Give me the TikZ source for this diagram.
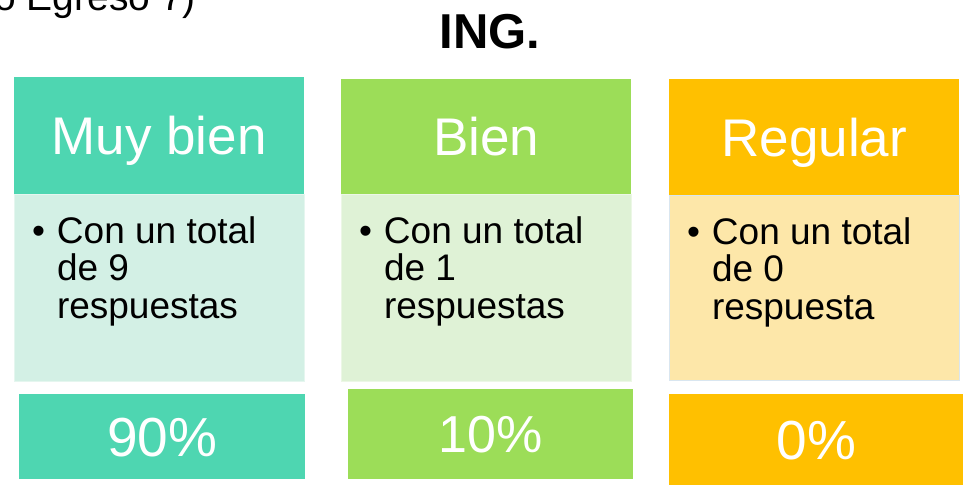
\documentclass[tikz,border=0pt]{standalone}
\usepackage{fontspec}
\setmainfont{Liberation Sans}
\usetikzlibrary{positioning}

\definecolor{tealhead}{HTML}{4ED6B1}
\definecolor{tealbody}{HTML}{D3F0E5}
\definecolor{limehead}{HTML}{9CDD58}
\definecolor{limebody}{HTML}{DFF2D6}
\definecolor{goldhead}{HTML}{FFC000}
\definecolor{goldbody}{HTML}{FDE7A9}
\definecolor{bluerim}{HTML}{D9E6F0}

\begin{document}
\begin{tikzpicture}[x=1pt,y=-1pt]
    \tikzstyle{headbox}=[anchor=north west, inner sep=0pt, text=white, font=\fontsize{53}{58}\selectfont, text height=38pt, text depth=0pt]
    \tikzstyle{bodybox}=[inner sep=0pt, minimum width=290pt, line width=0.8pt]
    \tikzstyle{bodytext}=[anchor=base west, inner sep=0pt, font=\fontsize{37}{37.5}\selectfont]
    \tikzstyle{pctbox}=[anchor=north west, inner sep=0pt, text=white]
    \tikzstyle{annot}=[inner sep=0pt]

    \useasboundingbox (0,0) rectangle (974,490);

    % Title and the cut-off line above it
    \node[annot, anchor=base west, font=\fontsize{39}{42}\selectfont] (sub) at (-6,10) {o Egreso 7)};
    \node[annot, anchor=base, font=\fontsize{49}{52}\selectfont\bfseries] (title) at (490,48) {ING.};

    % Draw the header boxes
    \foreach \name/\x/\y/\h/\col/\txt in {1/14/77/117/tealhead/Muy bien,2/341/79/115/limehead/Bien,3/669/79/116/goldhead/Regular}
        \node[headbox, fill=\col, minimum width=290pt, minimum height=\h pt] (H-\name) at (\x,\y) {\txt};

    % Body boxes under every header, with the count
    \foreach \name/\h/\col/\rim/\n/\resp in {1/187/tealbody/tealbody!60!white/9/respuestas,2/187/limebody/limebody!60!white/1/respuestas,3/185/goldbody/bluerim/0/respuesta}
    {
        \node[bodybox, fill=\col, draw=\rim, minimum height=\h pt, below=0pt of H-\name] (B-\name) {};
        \node[bodytext] (T-\name) at ([xshift=43pt,yshift=-49pt]B-\name.north west)
            {\llap{\textbullet\hspace{12pt}}\parbox[t]{240pt}{Con un total\\de \n\\\resp}};
    }

    % Percentages at the bottom
    \foreach \name/\x/\y/\w/\h/\col/\fs/\pct in {1/19/394/286/85/tealhead/55/90\%,2/348/389/285/90/limehead/52/10\%,3/669/394/294/91/goldhead/55/0\%}
        \node[pctbox, fill=\col, minimum width=\w pt, minimum height=\h pt, font=\fontsize{\fs}{\fs}\selectfont, text height=0.72*\fs pt, text depth=0pt] (P-\name) at (\x,\y) {\pct};
\end{tikzpicture}
\end{document}
